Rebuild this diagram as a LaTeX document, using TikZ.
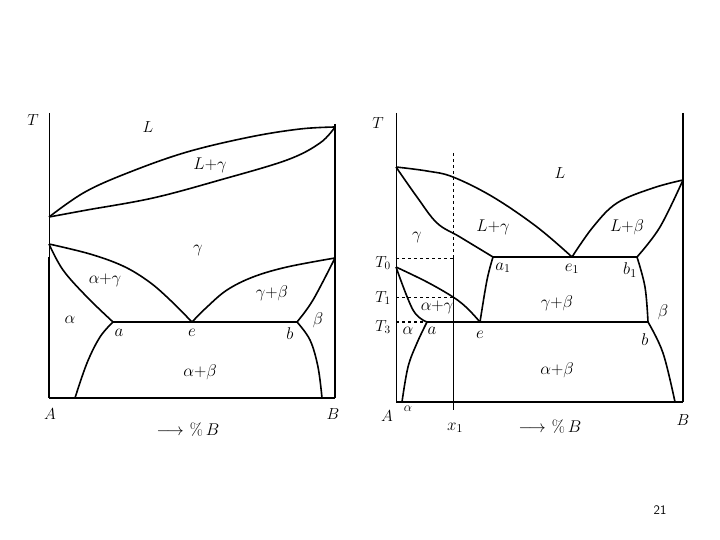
\documentclass[tikz,border=0pt]{standalone}
\usepackage{fix-cm}
\usepackage{amsmath}
\usepackage{amssymb}
\usepackage{tikz}

\tikzset{
  phase/.style={line width=1.6pt, line join=round},
  thin axis/.style={line width=0.7pt},
  lbl/.style={font=\fontsize{17}{20}\selectfont, inner sep=1pt},
  tlbl/.style={font=\fontsize{16}{19}\selectfont, inner sep=1pt},
}

\begin{document}
\begin{tikzpicture}[x=1pt, y=-1pt]
\useasboundingbox (0,0) rectangle (720,540);

% ---- left diagram
\coordinate (lA) at (49,398);
\coordinate (lB) at (335,398);
\coordinate (lmA) at (49,217);
\coordinate (lmB) at (335,127);
\coordinate (lg) at (49,244);
\coordinate (lgb) at (335,258);
\coordinate (la) at (113,322);
\coordinate (le) at (192,322);
\coordinate (lb) at (297,322);

\draw[thin axis] (49,113) -- (49,257);
\draw[phase] (49,257) -- (lA);
\draw[phase] (335,124) -- (lB);
\draw[line width=1.2pt] (lA) -- (lB);
\draw[phase] plot[smooth, tension=0.6] coordinates {(lmA) (85,192) (130,172) (187,152) (250,137) (300,129) (lmB)};
\draw[phase] plot[smooth, tension=0.6] coordinates {(lmA) (87,210) (153,198) (220,180) (287,160) (320,143) (lmB)};
\draw[phase] plot[smooth, tension=0.6] coordinates {(lg) (90,254) (123,266) (148,281) (168,298) (le)};
\draw[phase] plot[smooth, tension=0.6] coordinates {(lg) (63,270) (87,297) (la)};
\draw[phase] plot[smooth, tension=0.6] coordinates {(le) (207,307) (227,290) (253,277) (287,267) (lgb)};
\draw[phase] plot[smooth, tension=0.6] coordinates {(lb) (313,300) (lgb)};
\draw[phase] plot[smooth, tension=0.6] coordinates {(la) (100,337) (87,363) (75,398)};
\draw[phase] plot[smooth, tension=0.6] coordinates {(lb) (310,340) (318,367) (322,398)};
\draw[phase] (la) -- (lb);

\draw(33,120) node[tlbl](lT){$T$};
\draw(148,127) node[tlbl](lL){$L$};
\draw(210,165) node[lbl](lLg){$L{+}\gamma$};
\draw(198,250) node[lbl](lgam){$\gamma$};
\draw(105,280) node[lbl](lag){$\alpha{+}\gamma$};
\draw(70,320) node[lbl](lalpha){$\alpha$};
\draw(119,333) node[lbl](lalab){$a$};
\draw(192,333) node[lbl](lelab){$e$};
\draw(290,334) node[lbl](lblab){$b$};
\draw(318,320) node[lbl](lbeta){$\beta$};
\draw(272,293) node[lbl](lgbl){$\gamma{+}\beta$};
\draw(200,372) node[lbl](lab){$\alpha{+}\beta$};
\draw(50,414) node[tlbl](lAl){$A$};
\draw(333,414) node[tlbl](lBl){$B$};
\draw(188,430) node[lbl](lpct){$\longrightarrow$\hspace{6pt}$\%\,B$};

% ---- right diagram
\coordinate (rA) at (396,402);
\coordinate (rB) at (683,402);
\coordinate (rmA) at (396,167);
\coordinate (rmB) at (683,180);
\coordinate (ra1) at (493,257);
\coordinate (re1) at (572,257);
\coordinate (rb1) at (637,257);
\coordinate (rg) at (396,267);
\coordinate (ra) at (427,322);
\coordinate (re) at (480,322);
\coordinate (rb) at (648,322);

\draw[thin axis] (396,113) -- (rA);
\draw[phase] (683,113) -- (rB);
\draw[line width=1.2pt] (rA) -- (rB);
\draw[phase] plot[smooth, tension=0.6] coordinates {(rmA) (427,171) (453,177) (493,197) (537,227) (re1)};
\draw[phase] plot[smooth, tension=0.6] coordinates {(rmA) (417,197) (437,223) (460,237) (ra1)};
\draw[phase] plot[smooth, tension=0.6] coordinates {(re1) (593,227) (617,203) (653,188) (rmB)};
\draw[phase] plot[smooth, tension=0.6] coordinates {(rb1) (660,227) (rmB)};
\draw[phase] (ra1) -- (rb1);
\draw[phase] plot[smooth, tension=0.6] coordinates {(ra1) (487,280) (re)};
\draw[phase] plot[smooth, tension=0.6] coordinates {(rb1) (645,287) (rb)};
\draw[phase] plot[smooth, tension=0.6] coordinates {(rg) (427,282) (453,297) (467,308) (re)};
\draw[phase] plot[smooth, tension=0.6] coordinates {(rg) (413,310) (ra)};
\draw[phase] (ra) -- (rb);
\draw[phase] plot[smooth, tension=0.6] coordinates {(ra) (417,343) (408,367) (402,402)};
\draw[phase] plot[smooth, tension=0.6] coordinates {(rb) (663,353) (675,402)};

% alloy x1 and its temperatures
\draw[thin axis, dashed] (453,153) -- (453,258);
\draw[thin axis] (453,258) -- (453,410);
\draw[thin axis, dashed] (396,258) -- (453,258);
\draw[thin axis, dashed] (396,297) -- (453,297);
\draw[line width=1.3pt, dashed] (396,322) -- (ra);

\draw(378,123) node[tlbl](rT){$T$};
\draw(560,173) node[tlbl](rL){$L$};
\draw(493,227) node[lbl](rLg){$L{+}\gamma$};
\draw(417,237) node[lbl](rgam){$\gamma$};
\draw(627,227) node[lbl](rLb){$L{+}\beta$};
\draw(383,263) node[tlbl](rT0){$T_0$};
\draw(383,298) node[tlbl](rT1){$T_1$};
\draw(383,327) node[tlbl](rT3){$T_3$};
\draw(503,268) node[lbl](ra1l){$a_1$};
\draw(572,269) node[lbl](re1l){$e_1$};
\draw(630,270) node[lbl](rb1l){$b_1$};
\draw(557,303) node[lbl](rgb){$\gamma{+}\beta$};
\draw(663,312) node[lbl](rbeta){$\beta$};
\draw(437,307) node[lbl](rag){$\alpha{+}\gamma$};
\draw(408,331) node[lbl](ralpha){$\alpha$};
\draw(432,331) node[lbl](ral){$a$};
\draw(480,335) node[lbl](rel){$e$};
\draw(645,340) node[lbl](rbl){$b$};
\draw(557,370) node[lbl](rab){$\alpha{+}\beta$};
\draw(387,416) node[tlbl](rAl){$A$};
\draw(408,409) node[font=\fontsize{13}{15}\selectfont, inner sep=0pt](rsa){$\alpha$};
\draw(683,420) node[tlbl](rBl){$B$};
\draw(455,428) node[lbl](rx1){$x_1$};
\draw(550,427) node[lbl](rpct){$\longrightarrow$\hspace{6pt}$\%\,B$};

\draw(660,510) node[font=\sffamily\fontsize{13}{15}\selectfont](page){21};
\end{tikzpicture}
\end{document}
